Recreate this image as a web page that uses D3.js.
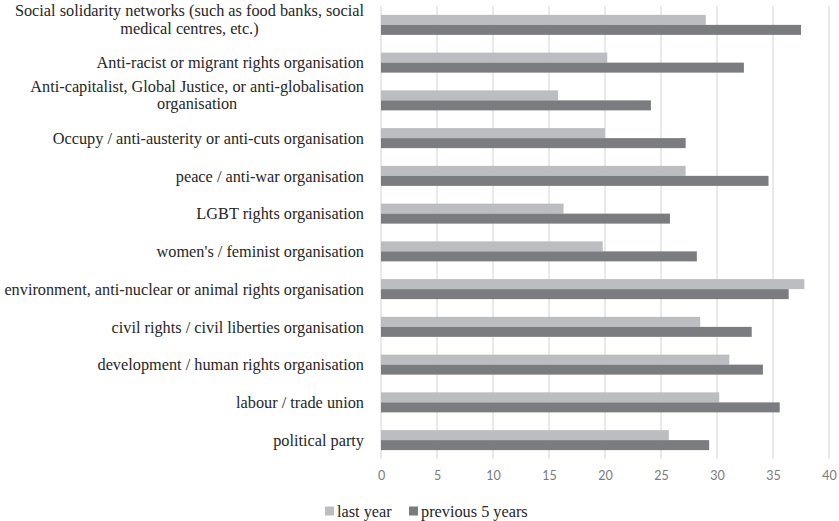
<!DOCTYPE html>
<html>
<head>
<meta charset="utf-8">
<script src="https://cdn.jsdelivr.net/npm/d3@7"></script>
<style>
  body { margin: 0; background: #fff; }
  #chart { width: 839px; height: 521px; }
  .cat { font-family: "Liberation Serif", "Times New Roman", serif; font-size: 16.3px; fill: #262626; }
  .tick text { font-family: Lato, "Open Sans", sans-serif; font-size: 12.5px; fill: #7a7a7a; }
  .legend { font-family: "Liberation Serif", serif; font-size: 16.3px; fill: #262626; }
</style>
</head>
<body>
<div id="chart"></div>
<script>
// categories, top to bottom (each is a list of label lines)
const categories = [
  ["Social solidarity networks (such as food banks, social", "medical centres, etc.)"],
  ["Anti-racist or migrant rights organisation"],
  ["Anti-capitalist, Global Justice, or anti-globalisation", "organisation"],
  ["Occupy / anti-austerity or anti-cuts organisation"],
  ["peace / anti-war organisation"],
  ["LGBT rights organisation"],
  ["women's / feminist organisation"],
  ["environment, anti-nuclear or animal rights organisation"],
  ["civil rights / civil liberties organisation"],
  ["development / human rights organisation"],
  ["labour / trade union"],
  ["political party"]
];
const lastYear =      [29.0, 20.2, 15.8, 20.0, 27.2, 16.3, 19.8, 37.8, 28.5, 31.1, 30.2, 25.7];
const previous5Years = [37.5, 32.4, 24.1, 27.2, 34.6, 25.8, 28.2, 36.4, 33.1, 34.1, 35.6, 29.3];
const seriesNames = ["last year", "previous 5 years"];
const xTicks = [0, 5, 10, 15, 20, 25, 30, 35, 40];

const width = 839, height = 521;
const margin = {top: 6, left: 381, right: 10, bottom: 62};
const plotBottom = 459;
const colors = {"last year": "#bcbdc0", "previous 5 years": "#7b7c80"};
const labelRight = 364;

const svg = d3.select("#chart").append("svg")
  .attr("width", width).attr("height", height);

const ids = categories.map((c, i) => i);
const rows = ids.map(i => ({i: i, lines: categories[i], values: [lastYear[i], previous5Years[i]]}));

const xScale = d3.scaleLinear().domain([0, 40]).range([margin.left, 829]);
const yScale = d3.scaleBand().domain(ids)
  .range([margin.top, plotBottom])
  .paddingInner(0.47).paddingOuter(0.235);
const sub = d3.scaleBand().domain(seriesNames).range([0, yScale.bandwidth()]);

// gridlines
svg.append("g").selectAll("line").data(xTicks).enter().append("line")
  .attr("x1", d => xScale(d)).attr("x2", d => xScale(d))
  .attr("y1", margin.top).attr("y2", plotBottom)
  .attr("stroke", "#d4d4d4").attr("stroke-width", 1);

// bars
const grp = svg.append("g").selectAll("g").data(rows).enter().append("g")
  .attr("transform", d => `translate(0,${yScale(d.i)})`);
grp.selectAll("rect").data(d => d.values.map((v, k) => ({name: seriesNames[k], v: v})))
  .enter().append("rect")
  .attr("x", xScale(0))
  .attr("y", d => sub(d.name))
  .attr("width", d => xScale(d.v) - xScale(0))
  .attr("height", sub.bandwidth())
  .attr("fill", d => colors[d.name]);

// x axis
const xAxis = svg.append("g")
  .attr("transform", `translate(0,${plotBottom})`)
  .call(d3.axisBottom(xScale).tickValues(xTicks).tickSize(0).tickPadding(12));
xAxis.select(".domain").remove();

// category labels: single lines right aligned, wrapped ones centred as a block
const lineH = 17.5;
rows.forEach(d => {
  const t = svg.append("text").attr("class", "cat")
    .attr("y", yScale(d.i) + yScale.bandwidth() / 2 - (d.lines.length - 1) * lineH / 2)
    .attr("dy", "0.35em");
  if (d.lines.length === 1) {
    t.attr("x", labelRight).attr("text-anchor", "end").text(d.lines[0]);
  } else {
    const spans = d.lines.map((line, k) => t.append("tspan")
      .attr("dy", k === 0 ? 0 : lineH).text(line));
    const w = d3.max(spans, s => s.node().getComputedTextLength());
    spans.forEach(s => s.attr("x", labelRight - w / 2).attr("text-anchor", "middle"));
  }
});

// legend
const legend = svg.append("g").attr("transform", `translate(325,511)`);
const lx = [0, 84];
seriesNames.forEach((s, k) => {
  legend.append("rect").attr("x", lx[k]).attr("y", -4.5).attr("width", 9).attr("height", 9)
    .attr("fill", colors[s]);
  legend.append("text").attr("class", "legend").attr("x", lx[k] + 12).attr("dy", "0.35em").text(s);
});
</script>
</body>
</html>
